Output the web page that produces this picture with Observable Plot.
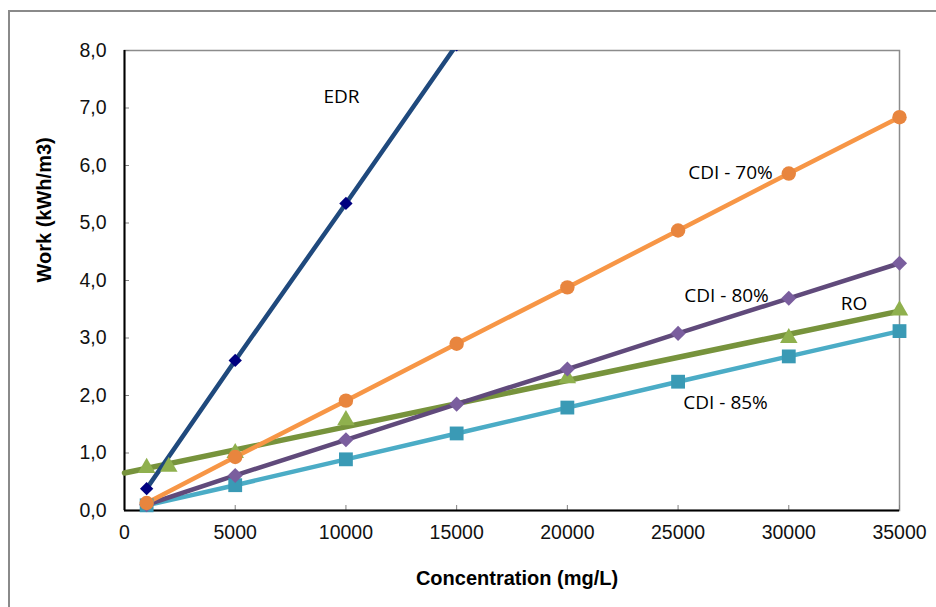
<!DOCTYPE html>
<html><head><meta charset="utf-8">
<script src="https://cdn.jsdelivr.net/npm/d3@7"></script>
<script src="https://cdn.jsdelivr.net/npm/@observablehq/plot@0.6"></script>
<style>
body{margin:0;background:#fff}
#wrap{position:relative;width:936px;height:607px;overflow:hidden}
#border{position:absolute;left:8px;top:10px;width:2000px;height:2000px;border-left:2px solid #8a8a8a;border-top:2px solid #8a8a8a;pointer-events:none}
#wrap svg{position:absolute;left:0;top:0}
</style>
</head><body>
<div id="wrap"><div id="border"></div></div>
<script>
// Data
const conc = [1000, 5000, 10000, 15000, 20000, 25000, 30000, 35000];
const cdi70 = [0.13, 0.93, 1.91, 2.90, 3.88, 4.87, 5.86, 6.84];
const cdi80 = [0.10, 0.61, 1.23, 1.85, 2.46, 3.08, 3.69, 4.30];
const cdi85 = [0.09, 0.44, 0.89, 1.34, 1.79, 2.24, 2.68, 3.12];
const edrConc = [1000, 5000, 10000, 15000];
const edr = [0.38, 2.61, 5.34, 8.10];
const roConc = [1000, 2000, 5000, 10000, 20000, 30000, 35000];
const ro = [0.74, 0.76, 1.00, 1.57, 2.30, 3.00, 3.48];
const xTicks = [0, 5000, 10000, 15000, 20000, 25000, 30000, 35000];
const yTicks = [0, 1, 2, 3, 4, 5, 6, 7, 8];
const labelNames = ["EDR", "CDI - 70%", "CDI - 80%", "RO", "CDI - 85%"];
const labelX = [9800, 27370, 27190, 32950, 27145];
const labelY = [7.2, 5.87, 3.74, 3.6, 1.87];

const toRows = (xs, ys) => xs.map((x, i) => ({x, y: ys[i]}));
const d70 = toRows(conc, cdi70);
const d80 = toRows(conc, cdi80);
const d85 = toRows(conc, cdi85);
const dEdr = toRows(edrConc, edr);
const dRo = toRows(roConc, ro);
const labels = labelNames.map((t, i) => ({t, x: labelX[i], y: labelY[i]}));

// Linear trendline for RO (least squares), drawn across the x domain
const mx = d3.mean(roConc), my = d3.mean(ro);
const slope = d3.sum(roConc, (x, i) => (x - mx) * (ro[i] - my)) / d3.sum(roConc, x => (x - mx) ** 2);
const intercept = my - slope * mx;
const xDomain = [0, 35000];
const trend = xDomain.map(x => ({x, y: intercept + slope * x}));

const chart = Plot.plot({
  width: 936, height: 607,
  marginLeft: 124, marginTop: 50, marginRight: 37, marginBottom: 97,
  style: {fontFamily: "'Liberation Sans', Arial, sans-serif", fontSize: "19.5px", background: "transparent", overflow: "visible", color: "#000"},
  x: {domain: xDomain},
  y: {domain: [0, 8]},
  marks: [
    Plot.frame({stroke: "#8c8c8c", strokeWidth: 1.5}),
    Plot.axisX({ticks: xTicks, tickSize: -5, tickPadding: 20, tickFormat: d => String(d), stroke: "#808080", fill: "#111", fontWeight: "normal", label: null}),
    Plot.axisY({ticks: yTicks, tickSize: -5, tickPadding: 23, tickFormat: d => d.toFixed(1).replace(".", ","), stroke: "#808080", fill: "#111", fontWeight: "normal", label: null}),
    Plot.ruleX([0], {stroke: "#000", strokeWidth: 2}),
    Plot.ruleY([0], {stroke: "#000", strokeWidth: 2}),
    Plot.text(["Concentration (mg/L)"], {frameAnchor: "bottom", dx: 5, dy: 68, fontWeight: "bold", fontSize: 20, lineAnchor: "middle", fill: "#000"}),
    Plot.text(["Work (kWh/m3)"], {frameAnchor: "left", rotate: -90, dx: -80, dy: 2, fontWeight: "bold", fontSize: 20, lineAnchor: "middle", fill: "#000"}),
    // lines
    Plot.line(trend, {x: "x", y: "y", stroke: "#77933C", strokeWidth: 5.5}),
    Plot.line(d85, {x: "x", y: "y", stroke: "#4BACC6", strokeWidth: 4.5}),
    Plot.line(d80, {x: "x", y: "y", stroke: "#604A7B", strokeWidth: 4.5}),
    Plot.line(d70, {x: "x", y: "y", stroke: "#F79646", strokeWidth: 4.5}),
    Plot.line(dEdr, {x: "x", y: "y", stroke: "#1F497D", strokeWidth: 4.5, clip: true}),
    // markers
    Plot.dot(dRo, {x: "x", y: "y", symbol: "triangle", r: 6.5, fill: "#8FB04E", stroke: "none"}),
    Plot.dot(d85, {x: "x", y: "y", symbol: "square", r: 7.8, fill: "#3A9AB5", stroke: "none"}),
    Plot.dot(d80, {x: "x", y: "y", symbol: "diamond2", r: 6.8, fill: "#7A5E9E", stroke: "none"}),
    Plot.dot(d70, {x: "x", y: "y", symbol: "circle", r: 7.2, fill: "#E8853E", stroke: "none"}),
    Plot.dot(dEdr, {x: "x", y: "y", symbol: "diamond2", r: 6, fill: "#000080", stroke: "none", clip: true}),
    // series labels
    Plot.text(labels, {x: "x", y: "y", text: "t", fontFamily: "'Open Sans', sans-serif", fontSize: 19, fill: "#000", textAnchor: "middle", lineAnchor: "middle"})
  ]
});
document.getElementById("wrap").appendChild(chart);
</script>
</body></html>
